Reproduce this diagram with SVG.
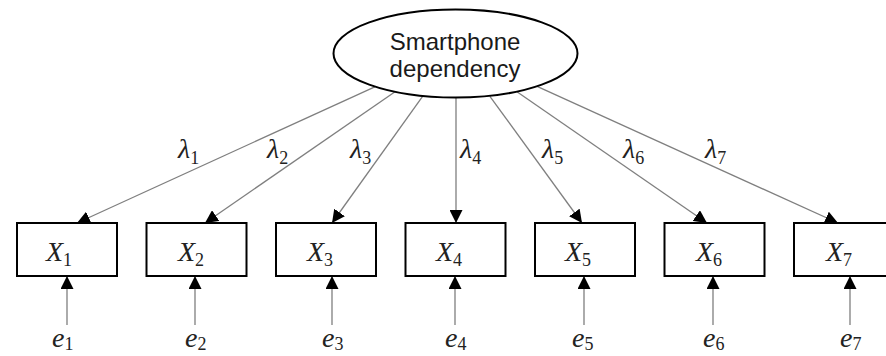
<svg xmlns="http://www.w3.org/2000/svg" width="886" height="356" viewBox="0 0 886 356">
<style>
.box{fill:#fff;stroke:#000;stroke-width:2}
.ell{fill:#fff;stroke:#000;stroke-width:2}
.lbl{font-family:"Liberation Sans",Arial,sans-serif;font-size:24px;fill:#1a1a1a;text-anchor:middle}
.m{font-family:"Liberation Serif","DejaVu Serif",serif;font-style:italic;font-size:28px;fill:#222}
.sub{font-style:normal;font-size:18px}
.con{stroke:#7f7f7f;stroke-width:1.3;fill:none;marker-end:url(#ah)}
</style>
<defs>
<marker id="ah" viewBox="0 0 13 13" refX="13" refY="6.5" markerWidth="13" markerHeight="13" markerUnits="userSpaceOnUse" orient="auto">
<path d="M0,0 L13,6.5 L0,13 z" fill="#000"/>
</marker>
</defs>
<rect width="886" height="356" fill="#fff"/>
<g id="connectors">
<line class="con" x1="374.8" y1="86.8" x2="77" y2="223"/>
<line class="con" x1="394.7" y1="92" x2="205" y2="223"/>
<line class="con" x1="422.6" y1="96.3" x2="332" y2="223"/>
<line class="con" x1="456" y1="98" x2="456" y2="223"/>
<line class="con" x1="489.9" y1="96.3" x2="582" y2="223"/>
<line class="con" x1="517.3" y1="92" x2="707" y2="223"/>
<line class="con" x1="537.6" y1="86.7" x2="838" y2="223"/>
<line class="con" x1="67" y1="325" x2="67" y2="276"/>
<line class="con" x1="195" y1="325" x2="195" y2="276"/>
<line class="con" x1="332" y1="325" x2="332" y2="276"/>
<line class="con" x1="455" y1="325" x2="455" y2="276"/>
<line class="con" x1="584" y1="325" x2="584" y2="276"/>
<line class="con" x1="713" y1="325" x2="713" y2="276"/>
<line class="con" x1="850" y1="325" x2="850" y2="276"/>
</g>
<g id="loading-labels">
<text class="m" x="178" y="158">λ<tspan class="sub" dy="6">1</tspan></text>
<text class="m" x="267" y="158">λ<tspan class="sub" dy="6">2</tspan></text>
<text class="m" x="350" y="158">λ<tspan class="sub" dy="6">3</tspan></text>
<text class="m" x="460" y="158">λ<tspan class="sub" dy="6">4</tspan></text>
<text class="m" x="542" y="158">λ<tspan class="sub" dy="6">5</tspan></text>
<text class="m" x="623" y="158">λ<tspan class="sub" dy="6">6</tspan></text>
<text class="m" x="705" y="158">λ<tspan class="sub" dy="6">7</tspan></text>
</g>
<g id="latent">
<ellipse class="ell" cx="455.5" cy="53.5" rx="122" ry="44"/>
<text class="lbl" x="455" y="50">Smartphone</text>
<text class="lbl" x="455" y="77">dependency</text>
</g>
<g id="X1"><rect class="box" x="17" y="223" width="100" height="53"/><text class="m" x="46" y="261">X<tspan class="sub" dy="5">1</tspan></text></g>
<g id="X2"><rect class="box" x="146.5" y="223" width="100" height="53"/><text class="m" x="178" y="261">X<tspan class="sub" dy="5">2</tspan></text></g>
<g id="X3"><rect class="box" x="276" y="223" width="100" height="53"/><text class="m" x="307" y="261">X<tspan class="sub" dy="5">3</tspan></text></g>
<g id="X4"><rect class="box" x="405.5" y="223" width="100" height="53"/><text class="m" x="436" y="261">X<tspan class="sub" dy="5">4</tspan></text></g>
<g id="X5"><rect class="box" x="535" y="223" width="100" height="53"/><text class="m" x="565" y="261">X<tspan class="sub" dy="5">5</tspan></text></g>
<g id="X6"><rect class="box" x="664.5" y="223" width="100" height="53"/><text class="m" x="696" y="261">X<tspan class="sub" dy="5">6</tspan></text></g>
<g id="X7"><rect class="box" x="794" y="223" width="100" height="53"/><text class="m" x="826" y="261">X<tspan class="sub" dy="5">7</tspan></text></g>
<g id="e1"><text class="m" x="52" y="347">e<tspan class="sub" dy="3">1</tspan></text></g>
<g id="e2"><text class="m" x="185" y="347">e<tspan class="sub" dy="3">2</tspan></text></g>
<g id="e3"><text class="m" x="322" y="347">e<tspan class="sub" dy="3">3</tspan></text></g>
<g id="e4"><text class="m" x="445" y="347">e<tspan class="sub" dy="3">4</tspan></text></g>
<g id="e5"><text class="m" x="572" y="347">e<tspan class="sub" dy="3">5</tspan></text></g>
<g id="e6"><text class="m" x="703" y="347">e<tspan class="sub" dy="3">6</tspan></text></g>
<g id="e7"><text class="m" x="840" y="347">e<tspan class="sub" dy="3">7</tspan></text></g>
</svg>
